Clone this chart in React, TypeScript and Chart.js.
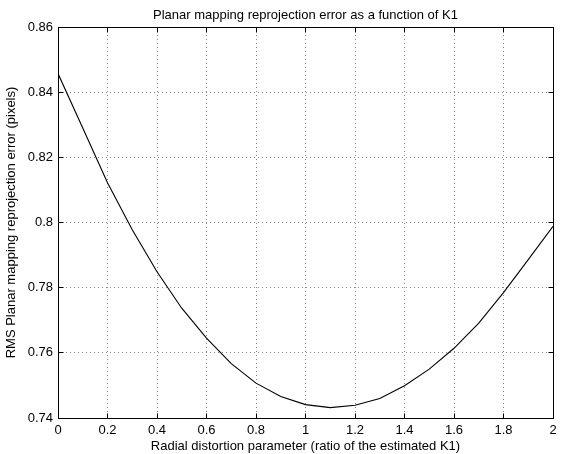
import React, { useEffect, useRef } from "react";
import { Chart, registerables } from "chart.js";

Chart.register(...registerables);

// Radial distortion parameter (ratio of the estimated K1)
const kValues = [0, 0.1, 0.2, 0.3, 0.4, 0.5, 0.6, 0.7, 0.8, 0.9, 1.0, 1.1, 1.2, 1.3, 1.4, 1.5, 1.6, 1.7, 1.8, 1.9, 2.0];
// RMS planar mapping reprojection error (pixels)
const rmsError = [
  0.8457, 0.829, 0.8122, 0.7978, 0.7849, 0.7737, 0.7645, 0.7567, 0.7507, 0.7466, 0.7441,
  0.7432, 0.7439, 0.746, 0.7499, 0.755, 0.7614, 0.7691, 0.7785, 0.7886, 0.7988,
];
const xTickValues = [0, 0.2, 0.4, 0.6, 0.8, 1.0, 1.2, 1.4, 1.6, 1.8, 2.0];
const yTickValues = [0.74, 0.76, 0.78, 0.8, 0.82, 0.84, 0.86];

const chartTitle = "Planar mapping reprojection error as a function of K1";
const xTitle = "Radial distortion parameter (ratio of the estimated K1)";
const yTitle = "RMS Planar mapping reprojection error (pixels)";

const FONT_FAMILY = "'Liberation Sans', Arial, Helvetica, sans-serif";

export default function App() {
  const ref = useRef<HTMLCanvasElement>(null);

  useEffect(() => {
    const prevMargin = document.body.style.margin;
    document.body.style.margin = "0";

    const font = { family: FONT_FAMILY, size: 13, weight: "normal" as const };

    const framePlugin = {
      id: "matlabFrame",
      afterDraw(chart: any) {
        const { ctx, chartArea } = chart;
        const xs = chart.scales.x;
        const ys = chart.scales.y;
        const a = (v: number) => Math.floor(v) + 0.5;
        const L = a(chartArea.left);
        const R = a(chartArea.right);
        const T = a(chartArea.top);
        const B = a(chartArea.bottom);
        const tick = 5;
        ctx.save();
        ctx.strokeStyle = "#000";
        ctx.lineWidth = 1;
        ctx.setLineDash([]);
        ctx.beginPath();
        ctx.rect(L, T, R - L, B - T);
        for (const v of xTickValues) {
          const px = a(xs.getPixelForValue(v));
          ctx.moveTo(px, B);
          ctx.lineTo(px, B - tick);
          ctx.moveTo(px, T);
          ctx.lineTo(px, T + tick);
        }
        for (const v of yTickValues) {
          const py = a(ys.getPixelForValue(v));
          ctx.moveTo(L, py);
          ctx.lineTo(L + tick, py);
          ctx.moveTo(R, py);
          ctx.lineTo(R - tick, py);
        }
        ctx.stroke();
        ctx.restore();
      },
    };

    const chart = new Chart(ref.current!, {
      type: "line",
      data: {
        datasets: [
          {
            data: kValues.map((k, i) => ({ x: k, y: rmsError[i] })),
            borderColor: "#000",
            borderWidth: 1.1,
            pointRadius: 0,
            tension: 0,
            fill: false,
          },
        ],
      },
      options: {
        responsive: false,
        animation: false,
        devicePixelRatio: 1,
        layout: { padding: { left: 0, right: 10, top: 0, bottom: 0 } },
        plugins: {
          legend: { display: false },
          tooltip: { enabled: false },
          title: {
            display: true,
            fullSize: false,
            text: chartTitle,
            color: "#000",
            font,
            padding: { top: 7.7, bottom: 3.7 },
          },
        },
        scales: {
          x: {
            type: "linear",
            min: 0,
            max: 2,
            afterBuildTicks: (s: any) => {
              s.ticks = xTickValues.map((v) => ({ value: v }));
            },
            afterFit: (s: any) => {
              s.height = 36;
            },
            ticks: {
              callback: (v: any) => String(Number(Number(v).toFixed(1))),
              padding: 5,
              color: "#000",
              font,
              maxRotation: 0,
              autoSkip: false,
            },
            grid: { color: "#8a8a8a", drawTicks: false, lineWidth: 1 },
            border: { display: false, dash: [1, 3] },
            title: { display: true, text: xTitle, color: "#000", font, padding: { top: 0, bottom: 0 } },
          },
          y: {
            type: "linear",
            min: 0.74,
            max: 0.86,
            afterBuildTicks: (s: any) => {
              s.ticks = yTickValues.map((v) => ({ value: v }));
            },
            afterFit: (s: any) => {
              s.width = 58;
            },
            ticks: {
              callback: (v: any) => String(Number(Number(v).toFixed(2))),
              padding: 5,
              color: "#000",
              font,
              autoSkip: false,
            },
            grid: { color: "#8a8a8a", drawTicks: false, lineWidth: 1 },
            border: { display: false, dash: [1, 3] },
            title: { display: true, text: yTitle, color: "#000", font, padding: { top: 3.2, bottom: 0 } },
          },
        },
      } as any,
      plugins: [framePlugin],
    });

    return () => {
      chart.destroy();
      document.body.style.margin = prevMargin;
    };
  }, []);

  return (
    <div style={{ width: 563, height: 454 }}>
      <canvas ref={ref} width={563} height={454} style={{ display: "block" }} />
    </div>
  );
}
